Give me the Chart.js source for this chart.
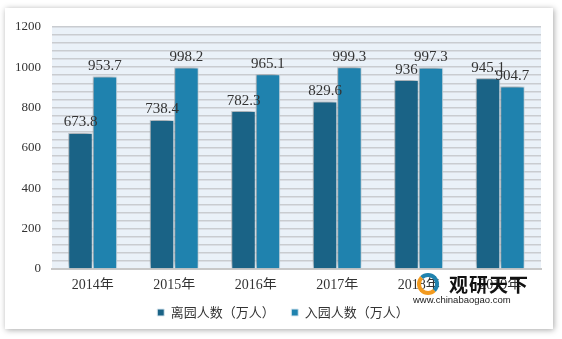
<!DOCTYPE html>
<html lang="zh">
<head>
<meta charset="utf-8">
<title>离园人数与入园人数</title>
<script src="https://cdn.jsdelivr.net/npm/chart.js@4.4.0/dist/chart.umd.min.js"></script>
<style>
  body { margin: 0; background: #ffffff; width: 562px; height: 339px; overflow: hidden; position: relative; }
  #frame { position: absolute; left: 5px; top: 8px; width: 548px; height: 321px; background: #fff;
           box-shadow: 1px 1px 6px rgba(0,0,0,0.35); }
  #box { position: absolute; left: 0; top: 0; width: 548px; height: 321px; }
  #mark { position: absolute; left: 413px; top: 272px; width: 130px; height: 34px; }
  #mark .logo { position: absolute; left: 4px; top: 1px; width: 22px; height: 22px; border-radius: 50%;
                border: 4px solid #1f82ae; border-bottom-color: #f29a1f; border-left-color: #f29a1f; box-sizing: border-box; }
  #mark .name { position: absolute; left: 36px; top: -2px; font: bold 19px "Noto Sans CJK SC"; color: #111; letter-spacing: 1px; }
  #mark .url { position: absolute; left: 0; top: 22px; font: 9.5px "Liberation Sans"; color: #222; }
</style>
</head>
<body>
<div id="frame">
  <div id="box"><canvas id="chart"></canvas></div>
</div>
<div id="mark"><div class="logo"></div><div class="name">观研天下</div><div class="url">www.chinabaogao.com</div></div>
<script>
var years = ["2014年", "2015年", "2016年", "2017年", "2018年", "2019年"];
var leaveCount = [673.8, 738.4, 782.3, 829.6, 936, 945.1];
var enterCount = [953.7, 998.2, 965.1, 999.3, 997.3, 904.7];
var seriesNames = ["离园人数（万人）", "入园人数（万人）"];

var plotBg = {
  id: "plotBg",
  afterLayout: function(chart) {
    // legend sits a little right of centre in the original
    if (chart.legend) chart.legend.left += 20;
  },
  beforeDraw: function(chart) {
    var a = chart.chartArea, ctx = chart.ctx;
    ctx.save();
    ctx.fillStyle = "#eaf1f8";
    ctx.fillRect(a.left, a.top, a.right - a.left, a.bottom - a.top);
    ctx.restore();
  }
};

var barShadow = {
  id: "barShadow",
  beforeDatasetsDraw: function(chart) {
    var ctx = chart.ctx;
    ctx.save();
    ctx.shadowColor = "rgba(0,0,0,0.35)";
    ctx.shadowBlur = 6;
    ctx.shadowOffsetX = -2;
    ctx.shadowOffsetY = -2;
  },
  afterDatasetsDraw: function(chart) {
    chart.ctx.restore();
  }
};

var valueLabels = {
  id: "valueLabels",
  afterDatasetsDraw: function(chart) {
    var ctx = chart.ctx;
    ctx.save();
    ctx.font = "15px 'Liberation Serif'";
    ctx.fillStyle = "#333";
    ctx.textAlign = "center";
    ctx.textBaseline = "bottom";
    chart.data.datasets.forEach(function(ds, i) {
      chart.getDatasetMeta(i).data.forEach(function(bar, j) {
        ctx.fillText(String(ds.data[j]), bar.x, bar.y - 3);
      });
    });
    ctx.restore();
  }
};

new Chart(document.getElementById("chart"), {
  type: "bar",
  data: {
    labels: years,
    datasets: [{
      label: seriesNames[0],
      data: leaveCount,
      backgroundColor: "#1a6386",
      borderColor: "#dde9f1",
      borderWidth: 1
    }, {
      label: seriesNames[1],
      data: enterCount,
      backgroundColor: "#1f82ae",
      borderColor: "#dde9f1",
      borderWidth: 1
    }]
  },
  options: {
    responsive: true,
    maintainAspectRatio: false,
    animation: false,
    layout: { padding: { top: 13, right: 12, left: 0, bottom: 0 } },
    datasets: { bar: { barPercentage: 1, categoryPercentage: 0.6 } },
    scales: {
      x: {
        grid: { display: false },
        border: { display: true, color: "#c8c8c8", width: 2 },
        ticks: { color: "#333", font: { family: "'Liberation Serif', 'Noto Sans CJK SC'", size: 14 }, padding: 0 },
        afterFit: function(s) { s.height = 20.5; }
      },
      y: {
        min: 0, max: 1200,
        grid: { color: "#c9ccd0", lineWidth: 1.5, drawTicks: false },
        border: { display: false },
        ticks: {
          stepSize: 40,
          autoSkip: false,
          color: "#333",
          padding: 11,
          font: { family: "'Liberation Serif'", size: 13 },
          callback: function(v) { return v % 200 === 0 ? v : ""; }
        },
        afterFit: function(s) { s.width = 47; }
      }
    },
    plugins: {
      legend: {
        position: "bottom",
        labels: {
          boxWidth: 7, boxHeight: 7, padding: 16.5, color: "#333",
          font: { family: "'Noto Sans CJK SC'", size: 13, lineHeight: 1 }
        }
      },
      tooltip: { enabled: false }
    }
  },
  plugins: [plotBg, barShadow, valueLabels]
});
</script>
</body>
</html>
